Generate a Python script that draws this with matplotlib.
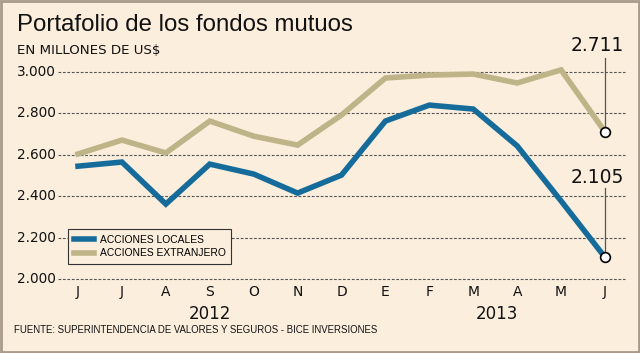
import matplotlib
matplotlib.use("Agg")
import matplotlib.pyplot as plt
from matplotlib.patches import Rectangle

months = ["J", "J", "A", "S", "O", "N", "D", "E", "F", "M", "A", "M", "J"]
locales = [2545, 2565, 2362, 2555, 2507, 2415, 2502, 2763, 2840, 2821, 2643, 2377, 2105]
extranjero = [2604, 2671, 2609, 2763, 2690, 2647, 2792, 2971, 2985, 2990, 2947, 3010, 2711]
yticks = [2000, 2200, 2400, 2600, 2800, 3000]
ytick_labels = ["2.000", "2.200", "2.400", "2.600", "2.800", "3.000"]
years = [("2012", 3.0), ("2013", 9.55)]

bg = "#FBEEDD"
blue = "#156C9A"
tan = "#BFB388"
FONT = "DejaVu Sans"
NARROW = "Liberation Sans"

fig = plt.figure(figsize=(6.4, 3.53), dpi=100, facecolor=bg)
fig.patches.append(Rectangle((0.002, 0.003), 0.996, 0.994, transform=fig.transFigure,
                             fill=False, edgecolor="#A8998A", linewidth=2))

ax = fig.add_axes([0.0906, 0.2096, 0.8860, 0.6451])
ax.set_facecolor(bg)
ax.set_xlim(-0.456, 12.456)
ax.set_ylim(2000, 3100)
for s in ax.spines.values():
    s.set_visible(False)
ax.set_xticks([])
ax.set_yticks([])

for y in yticks:
    ax.axhline(y, color="#555555", linewidth=0.8, linestyle=(0, (2.5, 1.5)), zorder=1,
               clip_on=False)

x = list(range(len(months)))
l1, = ax.plot(x, locales, color=blue, linewidth=4, solid_joinstyle="miter", zorder=3,
              label="ACCIONES LOCALES")
l2, = ax.plot(x, extranjero, color=tan, linewidth=4, solid_joinstyle="miter", zorder=3,
              label="ACCIONES EXTRANJERO")

# y tick labels
for y, lab in zip(yticks, ytick_labels):
    ax.text(-0.5, y, lab, ha="right", va="center", fontsize=9.8, family=FONT,
            color="#111111")

# month labels
for i, m in enumerate(months):
    ax.text(i, 1935, m, ha="center", va="center", fontsize=10, family=FONT, color="#111111")
for lab, xp in years:
    ax.text(xp, 1830, lab, ha="center", va="center", fontsize=12, family=FONT, color="#111111")

# end annotations
last = len(months) - 1
for val, ytxt, ytop in [(extranjero[-1], 3130, 3068), (locales[-1], 2488, 2440)]:
    ax.plot([last, last], [val, ytop], color="#555555", linewidth=0.9, zorder=4, clip_on=False)
    ax.plot(last, val, marker="o", markersize=7, markerfacecolor="white",
            markeredgecolor="black", markeredgewidth=1.2, zorder=5, clip_on=False)
    ax.text(last - 0.18, ytxt, f"{val/1000:.3f}", ha="center", va="center",
            fontsize=13.5, family=FONT, color="#111111", clip_on=False)

leg = ax.legend(handles=[l1, l2], loc="upper left", bbox_to_anchor=(0.0176, 0.2196),
                frameon=True, fancybox=False, handlelength=2.0,
                handletextpad=0.55, borderpad=0.55, labelspacing=0.35, borderaxespad=0,
                prop={"family": NARROW, "size": 7.4})
leg.get_frame().set_edgecolor("#333333")
leg.get_frame().set_facecolor(bg)
leg.get_frame().set_linewidth(0.8)
leg.get_frame().set_alpha(1)

fig.text(17/640, 1 - 25/353, "Portafolio de los fondos mutuos", ha="left", va="center",
         fontsize=17.3, family="Liberation Sans", color="#111111")
fig.text(17/640, 1 - 50/353, "EN MILLONES DE US$", ha="left", va="center",
         fontsize=9.6, family=FONT, color="#111111")
fig.text(14/640, 1 - 330/353, "FUENTE: SUPERINTENDENCIA DE VALORES Y SEGUROS - BICE INVERSIONES",
         ha="left", va="center", fontsize=6.95, family=NARROW, color="#111111")

fig.savefig("out.png", dpi=100, facecolor=bg)
